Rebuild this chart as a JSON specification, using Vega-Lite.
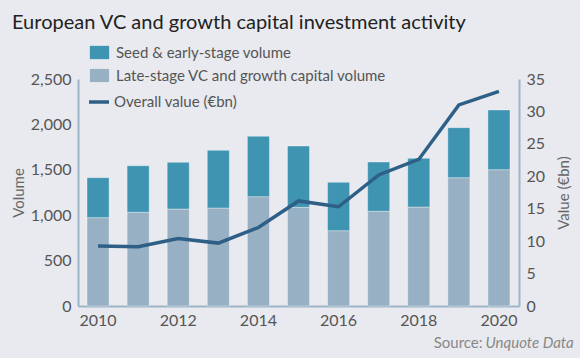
{
  "$schema": "https://vega.github.io/schema/vega-lite/v6.json",
  "width": 441,
  "height": 227,
  "autosize": {"type": "none"},
  "padding": {"left": 78, "top": 79, "right": 61, "bottom": 52},
  "background": "#e8eaef",
  "config": {
    "font": "Lato",
    "view": {"stroke": null},
    "axis": {"labelFont": "Lato", "titleFont": "Lato", "labelColor": "#555555", "titleColor": "#666666", "labelFontSize": 16, "titleFontSize": 15, "titleFontWeight": "normal", "domainColor": "#9db5c8", "domainWidth": 2, "ticks": false, "grid": false},
    "legend": {"labelFont": "Lato", "labelFontSize": 15, "labelColor": "#555555", "labelOffset": 6, "labelLimit": 400, "rowPadding": 4, "symbolSize": 400, "symbolOpacity": 1}
  },
  "title": {
    "text": "European VC and growth capital investment activity",
    "anchor": "start",
    "frame": "group",
    "dx": -66,
    "fontSize": 20,
    "fontWeight": "normal",
    "color": "#222222",
    "font": "Lato",
    "offset": 9
  },
  "datasets": {
    "volume": [
      {"year": 2010, "series": "Late-stage VC and growth capital volume", "volume": 973},
      {"year": 2010, "series": "Seed & early-stage volume", "volume": 440},
      {"year": 2011, "series": "Late-stage VC and growth capital volume", "volume": 1032},
      {"year": 2011, "series": "Seed & early-stage volume", "volume": 513},
      {"year": 2012, "series": "Late-stage VC and growth capital volume", "volume": 1068},
      {"year": 2012, "series": "Seed & early-stage volume", "volume": 514},
      {"year": 2013, "series": "Late-stage VC and growth capital volume", "volume": 1079},
      {"year": 2013, "series": "Seed & early-stage volume", "volume": 635},
      {"year": 2014, "series": "Late-stage VC and growth capital volume", "volume": 1204},
      {"year": 2014, "series": "Seed & early-stage volume", "volume": 665},
      {"year": 2015, "series": "Late-stage VC and growth capital volume", "volume": 1087},
      {"year": 2015, "series": "Seed & early-stage volume", "volume": 675},
      {"year": 2016, "series": "Late-stage VC and growth capital volume", "volume": 829},
      {"year": 2016, "series": "Seed & early-stage volume", "volume": 533},
      {"year": 2017, "series": "Late-stage VC and growth capital volume", "volume": 1043},
      {"year": 2017, "series": "Seed & early-stage volume", "volume": 543},
      {"year": 2018, "series": "Late-stage VC and growth capital volume", "volume": 1090},
      {"year": 2018, "series": "Seed & early-stage volume", "volume": 536},
      {"year": 2019, "series": "Late-stage VC and growth capital volume", "volume": 1413},
      {"year": 2019, "series": "Seed & early-stage volume", "volume": 551},
      {"year": 2020, "series": "Late-stage VC and growth capital volume", "volume": 1501},
      {"year": 2020, "series": "Seed & early-stage volume", "volume": 658}
    ],
    "value": [
      {"year": 2010, "value": 9.25},
      {"year": 2011, "value": 9.15},
      {"year": 2012, "value": 10.4},
      {"year": 2013, "value": 9.7},
      {"year": 2014, "value": 12.1},
      {"year": 2015, "value": 16.2},
      {"year": 2016, "value": 15.3},
      {"year": 2017, "value": 20.2},
      {"year": 2018, "value": 22.6},
      {"year": 2019, "value": 31.0},
      {"year": 2020, "value": 33.1}
    ]
  },
  "layer": [
    {
      "data": {"name": "volume"},
      "mark": {"type": "bar", "stroke": "#ffffff", "strokeOpacity": 0.35, "strokeWidth": 1},
      "encoding": {
        "x": {
          "field": "year", "type": "ordinal",
          "scale": {"paddingInner": 0.45, "paddingOuter": 0.225},
          "axis": {"orient": "bottom", "values": [2010, 2012, 2014, 2016, 2018, 2020], "labelAngle": 0, "labelPadding": 6, "title": "Source:", "titleX": 404, "titleY": 41, "titleAlign": "right", "titleBaseline": "alphabetic", "titleColor": "#888888", "titleFontSize": 15, "titleAnchor": null}
        },
        "y": {
          "field": "volume", "type": "quantitative", "stack": "zero",
          "scale": {"domain": [0, 2500]},
          "axis": {"orient": "left", "values": [0, 500, 1000, 1500, 2000, 2500], "format": ",.0f", "title": "Volume", "labelPadding": 7, "titleX": -55, "titleBaseline": "alphabetic", "titleAngle": -90}
        },
        "color": {
          "field": "series", "type": "nominal",
          "scale": {
            "domain": ["Seed & early-stage volume", "Late-stage VC and growth capital volume"],
            "range": ["#3f94b2", "#98b0c4"]
          },
          "legend": {
            "orient": "none", "legendX": 11, "legendY": -37, "title": null,
            "symbolType": "M-1,-0.7H1V0.7H-1Z",
            "symbolStrokeColor": "#ffffff", "symbolStrokeWidth": 0.5
          }
        },
        "order": {"field": "series", "sort": "ascending"}
      }
    },
    {
      "data": {"name": "value"},
      "mark": {"type": "line", "strokeWidth": 3.5, "strokeJoin": "miter"},
      "encoding": {
        "x": {
          "field": "year", "type": "ordinal",
          "axis": {"orient": "bottom", "labels": false, "domain": false, "ticks": false, "title": "Unquote Data", "titleX": 407, "titleY": 41, "titleAlign": "left", "titleBaseline": "alphabetic", "titleColor": "#888888", "titleFontSize": 15, "titleFontStyle": "italic", "titleAnchor": null}
        },
        "y": {
          "field": "value", "type": "quantitative",
          "scale": {"domain": [0, 35]},
          "axis": {"orient": "right", "values": [0, 5, 10, 15, 20, 25, 30, 35], "title": "Value (€bn)", "labelPadding": 7, "titleX": 49, "titleBaseline": "alphabetic", "titleAngle": -90}
        },
        "stroke": {
          "datum": "Overall value (€bn)",
          "scale": {"domain": ["Overall value (€bn)"], "range": ["#2e5f86"]},
          "legend": {
            "orient": "none", "legendX": 9, "legendY": 11, "title": null,
            "symbolType": "stroke", "symbolStrokeWidth": 3.5, "labelOffset": 3
          }
        }
      }
    }
  ],
  "resolve": {"scale": {"y": "independent"}, "axis": {"x": "independent"}}
}
